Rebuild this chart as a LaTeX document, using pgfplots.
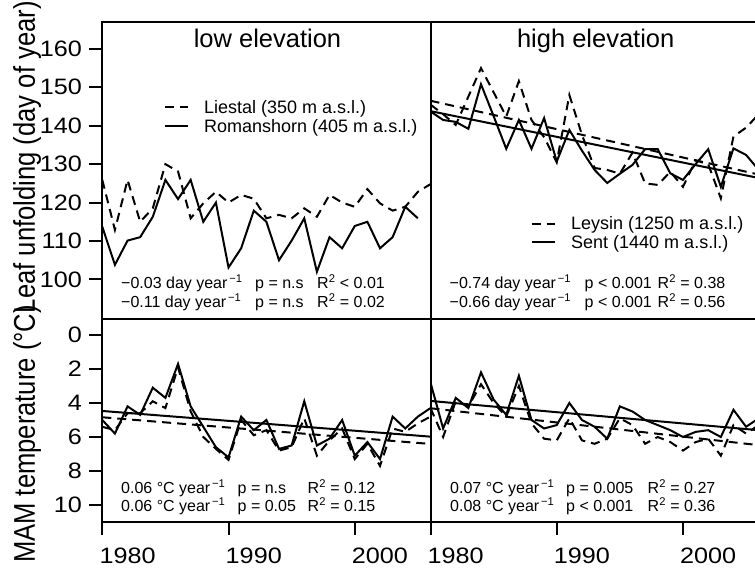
\documentclass[border=0pt]{standalone}
\usepackage{pgfplots}
\usepackage{pgfplotstable}
\pgfplotsset{compat=1.18}
\usepackage{fontspec}
\setmainfont{Liberation Sans}
\newfontfamily\tickfont{Liberation Sans}[FakeStretch=1.13]

\pgfplotstableread{
year val
1980 125.9
1981 112.9
1982 125.9
1983 115.0
1984 118.5
1985 130.0
1986 128.1
1987 115.9
1988 119.8
1989 122.8
1990 120.0
1991 122.0
1992 121.0
1993 115.9
1994 116.8
1995 115.9
1996 118.5
1997 116.3
1998 122.0
1999 120.0
2000 118.9
2001 123.5
2002 119.8
2003 117.9
2004 118.9
2005 122.8
2006 124.8
}\liestalLU
\pgfplotstableread{
year val
1980 113.7
1981 103.8
1982 110.1
1983 111.0
1984 116.3
1985 125.9
1986 120.9
1987 125.9
1988 115.0
1989 120.0
1990 103.1
1991 108.1
1992 117.9
1993 115.0
1994 105.0
1995 110.1
1996 115.9
1997 102.0
1998 111.0
1999 108.1
2000 113.9
2001 115.0
2002 108.1
2003 111.0
2004 118.9
2005 115.9
}\romanLU
\pgfplotstableread{
year val
1980 145.5
1981 143.0
1982 140.2
1983 147.6
1984 155.0
1985 148.7
1986 142.4
1987 151.6
1988 141.5
1989 137.0
1990 130.5
1991 148.0
1992 137.6
1993 129.0
1994 128.5
1995 127.5
1996 133.0
1997 125.0
1998 124.6
1999 128.0
2000 124.1
2001 131.0
2002 130.0
2003 121.1
2004 137.2
2005 139.5
2006 143.0
}\leysinLU
\pgfplotstableread{
year val
1980 143.7
1981 141.5
1982 141.0
1983 139.2
1984 150.8
1985 142.5
1986 134.0
1987 141.5
1988 134.0
1989 142.0
1990 130.7
1991 138.9
1992 133.5
1993 128.5
1994 125.1
1995 127.5
1996 129.8
1997 133.9
1998 133.9
1999 127.6
2000 125.9
2001 130.0
2002 133.9
2003 124.1
2004 134.1
2005 132.4
2006 128.5
}\sentLU
\pgfplotstableread{
year val
1980 5.4
1981 5.6
1982 4.6
1983 4.6
1984 3.9
1985 4.3
1986 1.9
1987 4.5
1988 6.0
1989 6.7
1990 7.35
1991 5.0
1992 5.9
1993 5.6
1994 6.8
1995 6.6
1996 4.9
1997 7.1
1998 6.2
1999 5.5
2000 7.3
2001 6.4
2002 7.7
2003 5.5
2004 5.7
2005 5.2
2006 4.8
}\liestalT
\pgfplotstableread{
year val
1980 5.0
1981 5.8
1982 4.2
1983 4.7
1984 3.1
1985 3.7
1986 1.7
1987 4.2
1988 5.4
1989 6.6
1990 7.2
1991 4.8
1992 5.6
1993 5.0
1994 6.7
1995 6.5
1996 3.9
1997 6.5
1998 6.1
1999 5.0
2000 7.1
2001 6.3
2002 7.3
2003 4.8
2004 5.5
2005 4.8
2006 4.3
}\romanT
\pgfplotstableread{
year val
1980 4.3
1981 6.0
1982 3.9
1983 4.2
1984 2.9
1985 4.0
1986 4.8
1987 3.0
1988 5.2
1989 6.1
1990 6.2
1991 4.9
1992 6.2
1993 6.4
1994 6.1
1995 4.9
1996 5.3
1997 6.4
1998 6.0
1999 6.3
2000 6.8
2001 6.3
2002 6.1
2003 7.1
2004 5.3
2005 5.8
2006 5.3
}\leysinT
\pgfplotstableread{
year val
1980 2.8
1981 5.5
1982 3.7
1983 4.3
1984 2.2
1985 3.8
1986 4.7
1987 2.4
1988 5.0
1989 5.5
1990 5.3
1991 4.0
1992 5.0
1993 5.4
1994 6.1
1995 4.2
1996 4.5
1997 5.0
1998 5.3
1999 5.6
2000 6.0
2001 5.7
2002 5.6
2003 6.0
2004 4.4
2005 5.4
2006 4.9
}\sentT

\pgfplotsset{
  panel/.style={
    scale only axis, width=328.2pt,
    xmin=1980, xmax=2006,
    axis line style={line width=2pt},
    tick align=outside, major tick length=13pt,
    tick style={line width=2pt, black},
    /pgf/number format/assume math mode=true,
    tick label style={font=\tickfont\fontsize{22.3}{24}\selectfont},
    yticklabel style={anchor=east, inner sep=0pt, xshift=-7.3pt},
    xticklabel style={anchor=north west, inner sep=0pt, xshift=-3pt, yshift=-13pt},
    anchor=south west,
  },
  toppanel/.style={panel, height=297pt, ymin=89.7, ymax=167, xtick=\empty},
  botpanel/.style={panel, height=203pt, ymin=-0.94, ymax=11, y dir=reverse,
    xtick={1980,1990,2000}, xticklabels={1980,1990,2000}, xtick pos=left},
  dsh/.style={black, line width=2pt, dash pattern=on 9pt off 6pt, mark=none},
  sld/.style={black, line width=2pt, mark=none},
}
\newcommand\statfont{\fontsize{16}{18}\selectfont}
\newcommand\legfont{\fontsize{18}{20}\selectfont}
\newcommand\yr{year\textsuperscript{\,−1}}
\newcommand\Rsq{R\textsuperscript{2}}

\begin{document}
\begin{tikzpicture}
\useasboundingbox (0pt,0pt) rectangle (755pt,569pt);
\clip (0pt,0pt) rectangle (755pt,569pt);

% top left
\begin{axis}[toppanel, at={(102.3pt,250pt)}, ytick={100,110,...,160}, ytick pos=left]
\addplot[dsh] table[x=year,y=val] {\liestalLU};
\addplot[sld] table[x=year,y=val] {\romanLU};
\end{axis}
% top right
\begin{axis}[toppanel, at={(430.5pt,250pt)}, ytick=\empty]
\addplot[dsh] table[x=year,y=val] {\leysinLU};
\addplot[sld] table[x=year,y=val] {\sentLU};
\addplot[dsh] coordinates {(1980,146.5) (2006,127.3)};
\addplot[sld] coordinates {(1980,143.8) (2006,126.4)};
\end{axis}
% bottom left
\begin{axis}[botpanel, at={(102.3pt,47pt)}, ytick={0,2,...,10}, ytick pos=left]
\addplot[dsh] table[x=year,y=val] {\liestalT};
\addplot[sld] table[x=year,y=val] {\romanT};
\addplot[dsh] coordinates {(1980,4.84) (2006,6.41)};
\addplot[sld] coordinates {(1980,4.47) (2006,5.98)};
\end{axis}
% bottom right
\begin{axis}[botpanel, at={(430.5pt,47pt)}, ytick=\empty]
\addplot[dsh] table[x=year,y=val] {\leysinT};
\addplot[sld] table[x=year,y=val] {\sentT};
\addplot[dsh] coordinates {(1980,4.31) (2006,6.48)};
\addplot[sld] coordinates {(1980,3.88) (2006,5.60)};
\end{axis}

% titles
\node[anchor=base, inner sep=0pt, font=\fontsize{25.5}{28}\selectfont] at (267.5pt,521pt) {low elevation};
\node[anchor=base, inner sep=0pt, font=\fontsize{25.5}{28}\selectfont] at (595.7pt,521pt) {high elevation};

% axis titles
\node[anchor=base, inner sep=0pt, rotate=90, font=\fontsize{25.6}{28}\selectfont] at (35pt,411.8pt) {\scalebox{1}[1.17]{Leaf unfolding (day of year)}};
\node[anchor=base, inner sep=0pt, rotate=90, font=\fontsize{25.6}{28}\selectfont] at (35pt,135pt) {\scalebox{1}[1.17]{MAM temperature (°C)}};

% legend top left
\draw[line width=2pt, dash pattern=on 9pt off 6pt] (165pt,461.7pt) -- (188pt,461.7pt);
\draw[line width=2pt] (165pt,443pt) -- (188pt,443pt);
\node[anchor=base west, inner sep=0pt, font=\legfont] at (204pt,455.7pt) {Liestal (350 m a.s.l.)};
\node[anchor=base west, inner sep=0pt, font=\legfont] at (204pt,436.3pt) {Romanshorn (405 m a.s.l.)};
% legend top right
\draw[line width=2pt, dash pattern=on 9pt off 6pt] (531.7pt,345pt) -- (555pt,345pt);
\draw[line width=2pt] (531.7pt,326.7pt) -- (555pt,326.7pt);
\node[anchor=base west, inner sep=0pt, font=\legfont] at (571pt,339pt) {Leysin (1250 m a.s.l.)};
\node[anchor=base west, inner sep=0pt, font=\legfont] at (571pt,320.7pt) {Sent (1440 m a.s.l.)};

% stats
\begin{scope}[every node/.style={anchor=base west, inner sep=0pt, font=\statfont}]
\node at (121pt,280.5pt) {−0.03 day \yr};
\node at (255pt,280.5pt) {p = n.s};
\node at (317pt,280.5pt) {\Rsq\ < 0.01};
\node at (121pt,261.5pt) {−0.11 day \yr};
\node at (255pt,261.5pt) {p = n.s};
\node at (317pt,261.5pt) {\Rsq\ = 0.02};
\node at (449.5pt,280.5pt) {−0.74 day \yr};
\node at (584.5pt,280.5pt) {p < 0.001};
\node at (657.5pt,280.5pt) {\Rsq\ = 0.38};
\node at (449.5pt,261.5pt) {−0.66 day \yr};
\node at (584.5pt,261.5pt) {p < 0.001};
\node at (657.5pt,261.5pt) {\Rsq\ = 0.56};
\node at (121pt,75.7pt) {0.06 °C \yr};
\node at (237.5pt,75.7pt) {p = n.s};
\node at (307.5pt,75.7pt) {\Rsq\ = 0.12};
\node at (121pt,57.3pt) {0.06 °C \yr};
\node at (237.5pt,57.3pt) {p = 0.05};
\node at (307.5pt,57.3pt) {\Rsq\ = 0.15};
\node at (450pt,75.7pt) {0.07 °C \yr};
\node at (566pt,75.7pt) {p = 0.005};
\node at (647.5pt,75.7pt) {\Rsq\ = 0.27};
\node at (450pt,57.3pt) {0.08 °C \yr};
\node at (566pt,57.3pt) {p < 0.001};
\node at (647.5pt,57.3pt) {\Rsq\ = 0.36};
\end{scope}
\end{tikzpicture}
\end{document}
